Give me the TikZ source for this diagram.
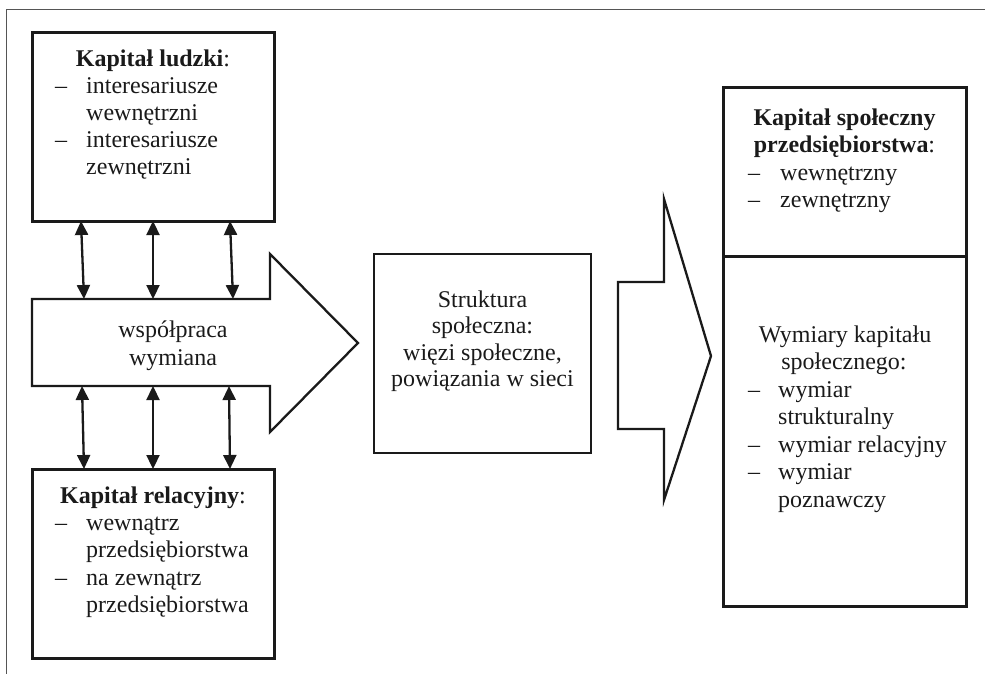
\documentclass[tikz,border=0pt]{standalone}
\usepackage{fontspec}
\setmainfont{Liberation Serif}
\usetikzlibrary{arrows.meta}
\definecolor{ink}{HTML}{1A1A1A}
\definecolor{frame}{HTML}{555555}
\begin{document}
\begin{tikzpicture}[x=1pt,y=-1pt,
  font=\fontsize{24}{27}\selectfont,
  capbox/.style={draw=ink, line width=3pt, inner sep=0pt},
  thinbox/.style={draw=ink, line width=2.3pt, inner sep=0pt},
  bigarrow/.style={draw=ink, line width=2.3pt, line join=miter},
  txt/.style={anchor=base west, inner sep=0pt, text=ink},
  ctxt/.style={anchor=base, inner sep=0pt, text=ink},
  dbl/.style={draw=ink, line width=2.3pt, {Triangle[width=13pt,length=14pt]}-{Triangle[width=13pt,length=14pt]}}]
\useasboundingbox (0,0) rectangle (985,674);
% open frame
\draw[frame, line width=1pt] (6,674) -- (6,10) -- (985,10);

% Kapitał ludzki
\node[capbox, minimum width=242pt, minimum height=188pt] (b1) at (153,127) {};
\node[ctxt] (b1t) at (153,67) {\textbf{Kapitał ludzki}:};
\node[txt] (b1d1) at (55,94) {–};
\node[txt] (b1a) at (86,94) {interesariusze};
\node[txt] (b1b) at (86,121) {wewnętrzni};
\node[txt] (b1d2) at (55,148) {–};
\node[txt] (b1c) at (86,148) {interesariusze};
\node[txt] (b1e) at (86,175) {zewnętrzni};

% big arrow
\draw[bigarrow] (32,299) -- (270,299) -- (270,254) -- (358,343) -- (270,432) -- (270,386) -- (32,386) -- cycle;
\node[ctxt] (ar1) at (173,337) {współpraca};
\node[ctxt] (ar2) at (173,365) {wymiana};

% Kapitał relacyjny
\node[capbox, minimum width=242pt, minimum height=189pt] (b3) at (153,563.5) {};
\node[ctxt] (b3t) at (153,503) {\textbf{Kapitał relacyjny}:};
\node[txt] (b3d1) at (55,530) {–};
\node[txt] (b3a) at (86,530) {wewnątrz};
\node[txt] (b3b) at (86,557.5) {przedsiębiorstwa};
\node[txt] (b3d2) at (55,585) {–};
\node[txt] (b3c) at (86,585) {na zewnątrz};
\node[txt] (b3e) at (86,612.5) {przedsiębiorstwa};

% connectors
\coordinate (u1) at (81,221); \coordinate (v1) at (84,299);
\coordinate (u2) at (153,221); \coordinate (v2) at (153,299);
\coordinate (u3) at (230,221); \coordinate (v3) at (233,299);
\coordinate (w1) at (82,386); \coordinate (z1) at (84,469);
\coordinate (w2) at (153,386); \coordinate (z2) at (153,469);
\coordinate (w3) at (229,386); \coordinate (z3) at (230,469);
\draw[dbl] (u1) -- (v1);
\draw[dbl] (u2) -- (v2);
\draw[dbl] (u3) -- (v3);
\draw[dbl] (w1) -- (z1);
\draw[dbl] (w2) -- (z2);
\draw[dbl] (w3) -- (z3);

% Struktura
\node[thinbox, minimum width=217pt, minimum height=199pt] (st) at (482.5,353.5) {};
\node[ctxt] (st1) at (482.5,307) {Struktura};
\node[ctxt] (st2) at (482.5,333.5) {społeczna:};
\node[ctxt] (st3) at (482.5,360) {więzi społeczne,};
\node[ctxt] (st4) at (482.5,386.5) {powiązania w sieci};

% second arrow
\draw[bigarrow] (618,282) -- (664,282) -- (664,199) -- (711,356) -- (664,500) -- (664,429) -- (618,429) -- cycle;

% right box
\node[capbox, minimum width=243pt, minimum height=168pt] (r1) at (844.5,172) {};
\node[capbox, minimum width=243pt, minimum height=350pt] (r2) at (844.5,431) {};
\node[ctxt] (r1t) at (844.5,126) {\textbf{Kapitał społeczny}};
\node[ctxt] (r1u) at (844.5,153) {\textbf{przedsiębiorstwa}:};
\node[txt] (r1d1) at (748,180) {–};
\node[txt] (r1a) at (780,180) {wewnętrzny};
\node[txt] (r1d2) at (748,207) {–};
\node[txt] (r1b) at (780,207) {zewnętrzny};

\node[ctxt] (r2t) at (845,342) {Wymiary kapitału};
\node[ctxt] (r2u) at (844,369.5) {społecznego:};
\node[txt] (r2d1) at (748,397) {–};
\node[txt] (r2a) at (778,397) {wymiar};
\node[txt] (r2b) at (778,424.5) {strukturalny};
\node[txt] (r2d2) at (748,452) {–};
\node[txt] (r2c) at (778,452) {wymiar relacyjny};
\node[txt] (r2d3) at (748,479.5) {–};
\node[txt] (r2e) at (778,479.5) {wymiar};
\node[txt] (r2f) at (778,507) {poznawczy};
\end{tikzpicture}
\end{document}
